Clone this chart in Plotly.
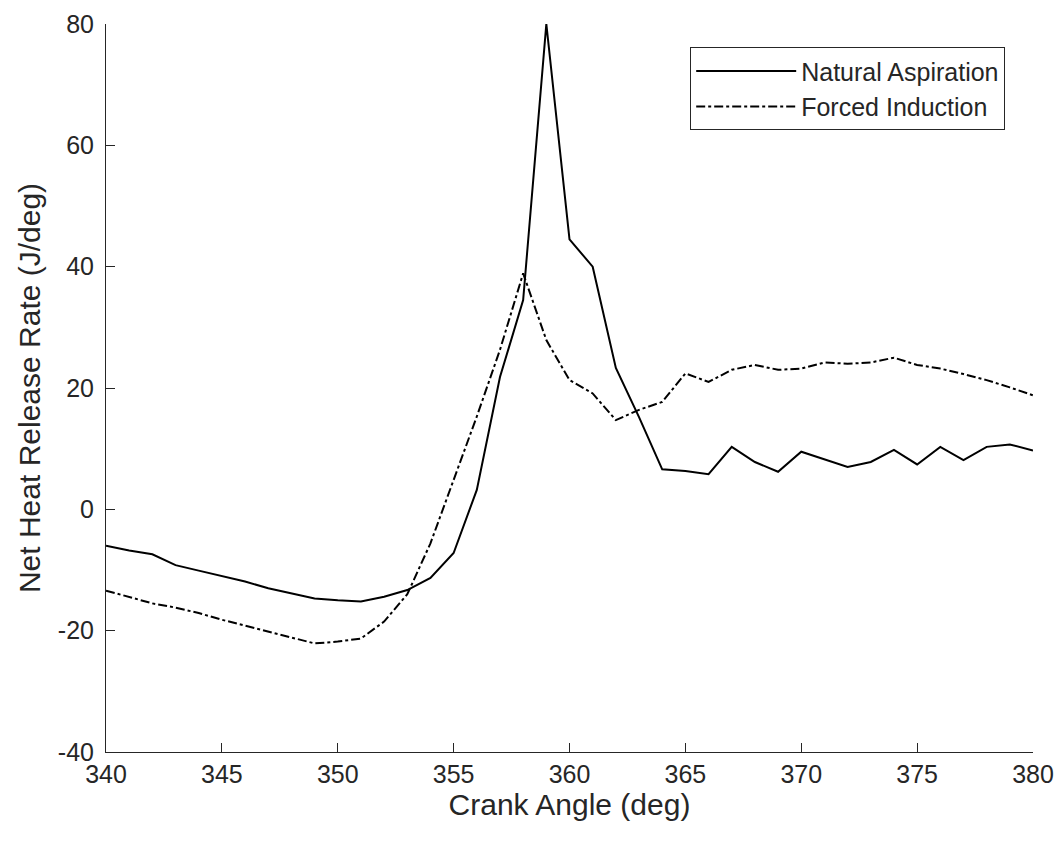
import plotly.graph_objects as go

crank_angle = list(range(340, 381))

natural_aspiration = [
    -6.0, -6.8, -7.4, -9.2, -10.1, -11.0, -11.9, -13.0, -13.8, -14.7,
    -15.0, -15.2, -14.4, -13.3, -11.3, -7.2, 3.2, 21.8, 34.5, 80.0,
    44.5, 40.0, 23.3, 15.2, 6.6, 6.3, 5.8, 10.3, 7.8, 6.2,
    9.5, 8.2, 7.0, 7.8, 9.8, 7.4, 10.3, 8.1, 10.3, 10.7, 9.7,
]

forced_induction = [
    -13.4, -14.4, -15.5, -16.2, -17.1, -18.2, -19.2, -20.2, -21.1, -22.1,
    -21.8, -21.3, -18.5, -14.0, -5.6, 4.8, 15.3, 26.3, 38.9, 27.9,
    21.3, 19.1, 14.7, 16.4, 17.7, 22.4, 21.0, 23.0, 23.8, 23.0,
    23.2, 24.2, 24.0, 24.2, 25.0, 23.8, 23.2, 22.3, 21.3, 20.1, 18.8,
]

x_ticks = [340, 345, 350, 355, 360, 365, 370, 375, 380]
x_tick_labels = ["340", "345", "350", "355", "360", "365", "370", "375", "380"]
y_ticks = [-40, -20, 0, 20, 40, 60, 80]
y_tick_labels = ["-40", "-20", "0", "20", "40", "60", "80"]

fig = go.Figure()
fig.add_trace(go.Scatter(
    x=crank_angle, y=natural_aspiration, mode="lines", name="Natural Aspiration",
    line=dict(color="black", width=2, dash="solid"),
))
fig.add_trace(go.Scatter(
    x=crank_angle, y=forced_induction, mode="lines", name="Forced Induction",
    line=dict(color="black", width=2, dash="dashdot"),
))

axis_color = "#262626"
font_family = "Liberation Sans, Arial, sans-serif"

fig.update_layout(
    width=1060, height=846,
    margin=dict(l=106, r=27, t=24, b=94, autoexpand=False),
    plot_bgcolor="white", paper_bgcolor="white",
    font=dict(family=font_family, color=axis_color, size=25),
    showlegend=True,
    legend=dict(
        x=0.970, y=0.968, xanchor="right", yanchor="top",
        bgcolor="white", bordercolor=axis_color, borderwidth=1,
        font=dict(size=25, color=axis_color),
        itemwidth=100, tracegroupgap=0,
    ),
    xaxis=dict(
        range=[340, 380], tickvals=x_ticks, ticktext=x_tick_labels,
        ticks="inside", ticklen=9, automargin=False,
        tickcolor=axis_color, showline=True, linecolor=axis_color, linewidth=1,
        showgrid=False, zeroline=False, mirror=False,
        title=dict(text="Crank Angle (deg)", font=dict(size=30), standoff=4),
        tickfont=dict(size=25),
    ),
    yaxis=dict(
        range=[-40, 80], tickvals=y_ticks, ticktext=y_tick_labels,
        ticks="inside", ticklen=9, ticklabelstandoff=6, automargin=False,
        tickcolor=axis_color, showline=True, linecolor=axis_color, linewidth=1,
        showgrid=False, zeroline=False, mirror=False,
        title=dict(text="Net Heat Release Rate (J/deg)", font=dict(size=30), standoff=8),
        tickfont=dict(size=25),
    ),
)

fig.write_html("out.html")
